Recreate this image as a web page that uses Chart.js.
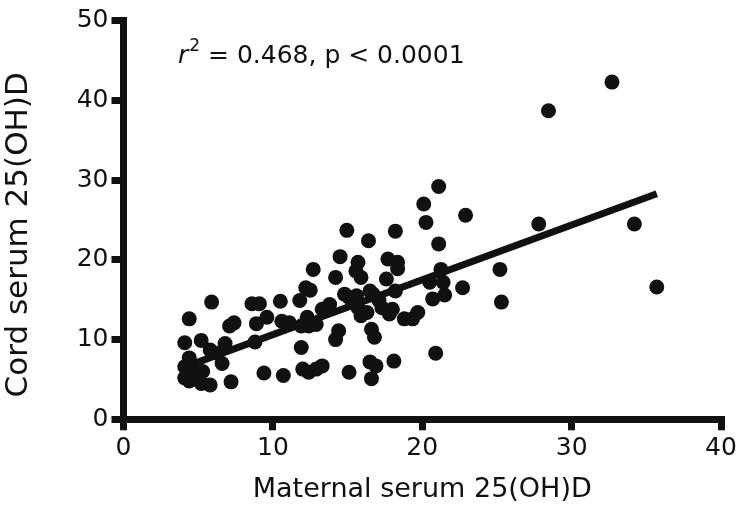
<!DOCTYPE html>
<html><head><meta charset="utf-8">
<script src="https://cdn.jsdelivr.net/npm/chart.js@4.4.0/dist/chart.umd.min.js"></script>
<style>html,body{margin:0;padding:0;background:#fff}#wrap{width:750px;height:512px;position:relative}</style>
</head><body><div id="wrap"><canvas id="c" width="750" height="512"></canvas></div>
<script>
// Maternal serum 25(OH)D (x) and cord serum 25(OH)D (y)
const maternal = [
  4.4, 5.9, 4.1, 5.2, 5.8, 6.3, 6.8, 6.6, 4.4, 4.1, 4.7, 5.3, 4.1, 4.4, 5.2, 5.8, 7.2, 5.0, 7.1, 7.4,
  8.6, 9.1, 8.9, 9.6, 8.8, 9.4,
  10.5, 10.6, 10.7, 11.1, 11.8, 11.9, 11.9, 12.0,
  12.2, 12.5, 12.7, 12.3, 12.4, 12.9, 12.4, 12.9, 13.3, 13.3, 13.8,
  14.2, 14.5, 14.95, 14.8, 15.1, 15.6, 15.7, 15.56, 15.9, 15.7, 15.9, 14.4, 14.2, 15.1,
  16.4, 16.3, 16.5, 16.7, 17.1, 17.3, 17.8, 18.0, 17.7, 17.6, 16.6, 16.8, 16.5, 16.9, 16.6, 18.1,
  18.2, 18.35, 18.35, 18.2, 18.8, 19.35, 19.7, 20.1, 20.25, 21.1, 21.1, 21.25, 20.5, 21.4, 20.7, 21.5, 20.9,
  22.9, 22.7, 25.2, 25.3, 27.8, 28.45, 32.7, 34.2, 35.7
];
const cord = [
  12.6, 14.7, 9.6, 9.9, 8.7, 8.3, 9.5, 7.0, 7.7, 6.6, 6.0, 6.0, 5.2, 4.8, 4.5, 4.3, 4.7, 5.5, 11.7, 12.1,
  14.5, 14.5, 12.0, 12.8, 9.7, 5.8,
  14.8, 12.3, 5.5, 12.1, 14.9, 11.7, 9.0, 6.3,
  16.5, 16.2, 18.8, 12.8, 11.7, 11.9, 5.9, 6.3, 6.7, 13.8, 14.4,
  17.8, 20.4, 23.7, 15.7, 15.3, 15.5, 19.7, 18.6, 17.8, 14.0, 13.0, 11.1, 10.0, 5.9,
  22.4, 13.4, 16.1, 15.7, 14.9, 14.0, 13.2, 13.8, 20.1, 17.6, 11.3, 10.3, 7.2, 6.7, 5.1, 7.3,
  23.6, 19.7, 18.9, 16.1, 12.6, 12.6, 13.4, 27.0, 24.7, 29.2, 22.0, 18.8, 17.2, 17.2, 15.1, 15.6, 8.3,
  25.6, 16.5, 18.8, 14.7, 24.5, 38.7, 42.3, 24.5, 16.6
];
// Regression line end points
const fitX = [4.3, 35.7];
const fitY = [6.7, 28.3];
const xTicks = [0, 10, 20, 30, 40];
const yTicks = [0, 10, 20, 30, 40, 50];
const xTitle = 'Maternal serum 25(OH)D';
const yTitle = 'Cord serum 25(OH)D   ';
const statText = ' = 0.468, p < 0.0001';

const INK = '#111111';
const FONT = '"DejaVu Sans", sans-serif';

const annot = {
  id: 'annot',
  afterDraw(chart) {
    const ctx = chart.ctx;
    ctx.save();
    ctx.fillStyle = INK;
    ctx.textBaseline = 'alphabetic';
    ctx.textAlign = 'left';
    let x = 178, y = 63;
    ctx.font = 'italic 25px ' + FONT;
    ctx.fillText('r', x, y);
    x += ctx.measureText('r').width;
    ctx.font = '17px ' + FONT;
    ctx.fillText('2', x + 1, y - 12);
    x += ctx.measureText('2').width + 1;
    ctx.font = '25px ' + FONT;
    ctx.fillText(statText, x, y);
    ctx.restore();
  }
};

const gridOpts = (len) => ({
  display: true, drawOnChartArea: false, drawTicks: true,
  tickLength: len, tickWidth: 7, tickColor: INK, lineWidth: 7, color: INK
});

new Chart(document.getElementById('c'), {
  data: {
    datasets: [
      {
        type: 'scatter',
        data: maternal.map((v, i) => ({ x: v, y: cord[i] })),
        pointRadius: 7.5, pointHoverRadius: 7.5,
        pointBackgroundColor: INK, pointBorderWidth: 0, borderWidth: 0
      },
      {
        type: 'line',
        data: fitX.map((v, i) => ({ x: v, y: fitY[i] })),
        borderColor: INK, borderWidth: 7, pointRadius: 0, fill: false,
        borderCapStyle: 'butt', tension: 0
      }
    ]
  },
  options: {
    responsive: false, animation: false, devicePixelRatio: 1,
    layout: { padding: { top: 20.7, right: 29, left: 0, bottom: 0 } },
    plugins: { legend: { display: false }, tooltip: { enabled: false } },
    scales: {
      x: {
        type: 'linear', min: 0, max: 40,
        afterBuildTicks: s => { s.ticks = xTicks.map(v => ({ value: v })); },
        ticks: { color: INK, font: { family: FONT, size: 25 }, padding: 3 },
        grid: gridOpts(11),
        border: { display: true, width: 7, color: INK },
        title: { display: true, text: xTitle, color: INK, font: { family: FONT, size: 27 }, padding: { top: 0, bottom: 6 } },
        afterFit: s => { s.height = 92.7; }
      },
      y: {
        type: 'linear', min: 0, max: 50,
        afterBuildTicks: s => { s.ticks = yTicks.map(v => ({ value: v })); },
        ticks: { color: INK, font: { family: FONT, size: 25 }, padding: 3 },
        grid: gridOpts(12),
        border: { display: true, width: 7, color: INK },
        title: { display: true, text: yTitle, color: INK, font: { family: FONT, size: 31 }, padding: { top: 0, bottom: 0 } },
        afterFit: s => { s.width = 123.5; }
      }
    }
  },
  plugins: [annot]
});
</script>
</body></html>
